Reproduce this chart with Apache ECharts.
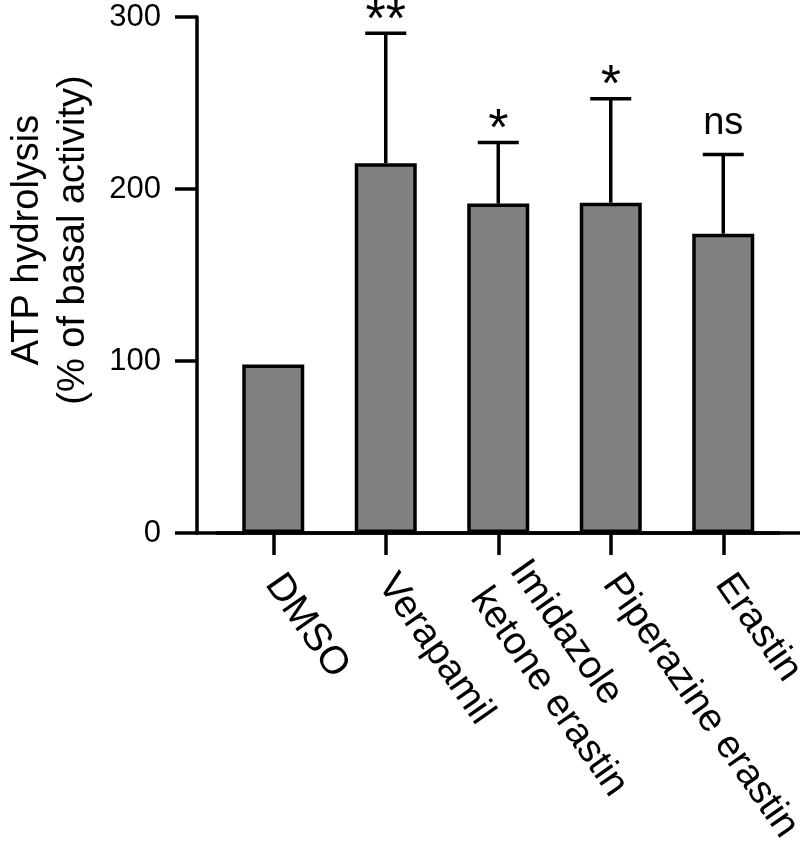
<!DOCTYPE html>
<html>
<head>
<meta charset="utf-8">
<script src="https://cdn.jsdelivr.net/npm/echarts@6/dist/echarts.min.js"></script>
<style>
  html, body { margin: 0; padding: 0; background: #fff; }
  #chart { width: 800px; height: 843px; }
</style>
</head>
<body>
<div id="chart"></div>
<script>
const categories = ['DMSO', 'Verapamil', 'Imidazole\nketone erastin', 'Piperazine erastin', 'Erastin'];
const means = [98, 215, 191.5, 192, 174];
const errors = [0, 75.5, 35.5, 60.5, 46];
const marks = ['', '**', '*', '*', 'ns'];
const yMin = 0, yMax = 300, yStep = 100;
const yTitle = 'ATP hydrolysis\n(% of basal activity)';

const FONT = "'Liberation Sans', Arial, sans-serif";
const LW = 3.5;

const chart = echarts.init(document.getElementById('chart'), null, { renderer: 'canvas' });

const errData = means.map((m, i) => [i, m, errors[i]]);

function renderErr(params, api) {
  const i = api.value(0);
  const m = api.value(1);
  const e = api.value(2);
  const base = api.coord([i, m]);
  const top = api.coord([i, m + e]);
  const children = [];
  if (e > 0) {
    children.push({
      type: 'line',
      shape: { x1: base[0], y1: base[1], x2: top[0], y2: top[1] },
      style: { stroke: '#000', lineWidth: LW }
    });
    children.push({
      type: 'line',
      shape: { x1: top[0] - 20.5, y1: top[1], x2: top[0] + 20.5, y2: top[1] },
      style: { stroke: '#000', lineWidth: LW }
    });
  }
  const t = marks[params.dataIndex];
  if (t) {
    const isStar = t.indexOf('*') >= 0;
    children.push({
      type: 'text',
      style: {
        text: t,
        x: top[0],
        y: top[1] - (isStar ? 12 : 31),
        align: 'center',
        verticalAlign: 'middle',
        fontSize: isStar ? 52 : 38,
        fontFamily: FONT,
        fill: '#000'
      }
    });
  }
  return { type: 'group', children };
}

const option = {
  backgroundColor: '#fff',
  animation: false,
  grid: [
    { left: 217, width: 562.5, top: 17, bottom: 310, containLabel: false, outerBoundsMode: 'none' },
    { left: 197, right: 0, top: 17, bottom: 310, containLabel: false, outerBoundsMode: 'none' }
  ],
  xAxis: [
    {
      type: 'category',
      gridIndex: 0,
      data: categories,
      axisLine: { show: true, lineStyle: { color: '#000', width: LW } },
      axisTick: { show: true, alignWithLabel: true, length: 22, lineStyle: { color: '#000', width: LW } },
      axisLabel: {
        interval: 0,
        rotate: -55,
        margin: 45,
        fontSize: 39,
        lineHeight: 48,
        fontFamily: FONT,
        color: '#000'
      },
      splitLine: { show: false }
    },
    {
      type: 'value',
      gridIndex: 1,
      min: 0,
      max: 1,
      axisLine: { show: true, onZero: false, lineStyle: { color: '#000', width: LW } },
      axisTick: { show: false },
      axisLabel: { show: false },
      splitLine: { show: false }
    }
  ],
  yAxis: [
    {
      type: 'value',
      gridIndex: 0,
      min: yMin,
      max: yMax,
      interval: yStep,
      show: false
    },
    {
      type: 'value',
      gridIndex: 1,
      min: yMin,
      max: yMax,
      interval: yStep,
      axisLine: { show: true, onZero: false, lineStyle: { color: '#000', width: LW } },
      axisTick: { show: true, length: 22, lineStyle: { color: '#000', width: LW } },
      axisLabel: { margin: 36, fontSize: 31, fontFamily: FONT, color: '#000' },
      splitLine: { show: false },
      name: yTitle,
      nameLocation: 'middle',
      nameGap: 100,
      nameRotate: 90,
      nameTextStyle: {
        fontSize: 38,
        lineHeight: 46,
        fontFamily: FONT,
        color: '#000',
        padding: [0, 0, 0, 70]
      }
    }
  ],
  series: [
    {
      type: 'bar',
      xAxisIndex: 0,
      yAxisIndex: 0,
      data: means,
      barWidth: 62,
      itemStyle: { color: '#808181', borderColor: '#000', borderWidth: 3.5 },
      z: 2
    },
    {
      type: 'custom',
      xAxisIndex: 0,
      yAxisIndex: 0,
      data: errData,
      renderItem: renderErr,
      z: 3
    }
  ]
};

chart.setOption(option);
</script>
</body>
</html>
